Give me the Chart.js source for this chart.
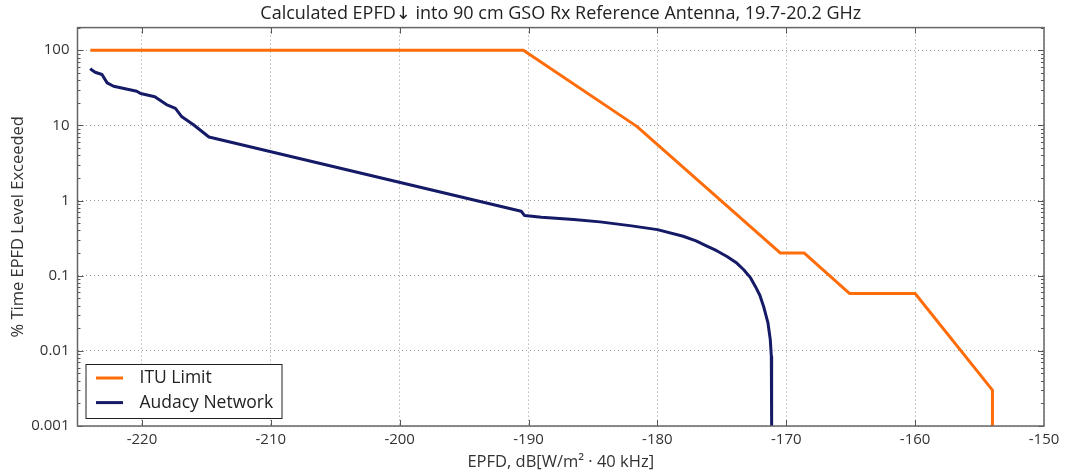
<!DOCTYPE html>
<html>
<head>
<meta charset="utf-8">
<script src="https://cdn.jsdelivr.net/npm/chart.js@4.4.1/dist/chart.umd.min.js"></script>
<style>
  html, body { margin: 0; padding: 0; background: #fff; }
  #wrap { width: 1065px; height: 473px; position: relative; }
</style>
</head>
<body>
<div id="wrap"><canvas id="grafico"></canvas></div>
<script>
// ITU limit mask
const ituX = [-224, -190.4, -181.6, -170.45, -168.6, -165.1, -160, -154, -154];
const ituY = [100, 100, 9.7, 0.2, 0.2, 0.058, 0.058, 0.003, 0.001];

// Audacy network CCDF
const audX = [-224, -223.94, -223.63, -223.1, -222.7, -222.2, -220.4, -220.1, -219, -218.1, -217.4, -216.9, -216, -214.8,
  -190.57, -190.3, -189, -186.5, -184.45, -182, -180, -178, -177, -176.2, -175.4, -174.6, -173.9, -173.3, -172.8,
  -172.4, -172.05, -171.76, -171.42, -171.24, -171.16, -171.14, -171.13];
const audY = [57, 55.4, 50.9, 47.5, 36.8, 33.2, 28.5, 26.5, 24, 18.9, 16.8, 13, 10.2, 7,
  0.72, 0.63, 0.6, 0.56, 0.52, 0.46, 0.41, 0.335, 0.29, 0.25, 0.215, 0.18, 0.15, 0.12, 0.095,
  0.072, 0.055, 0.039, 0.0235, 0.0141, 0.0085, 0.003, 0.001];

const xTicks = [-220, -210, -200, -190, -180, -170, -160, -150];
const yTicks = [0.001, 0.01, 0.1, 1, 10, 100];

const LARANJA = '#ff6d0a';
const AZUL = '#151a66';
const FONTE = "'Open Sans', 'DejaVu Sans', sans-serif";

Chart.defaults.font.family = FONTE;
Chart.defaults.color = '#333';

const pts = (xs, ys) => xs.map((x, i) => ({ x: x, y: ys[i] }));

// moldura + ticks para dentro (estilo matplotlib) + legenda no canto
const moldura = {
  id: 'moldura',
  afterDatasetsDraw(chart) {
    const { ctx, chartArea: a, scales } = chart;
    const sx = scales.x, sy = scales.y;
    ctx.save();
    ctx.strokeStyle = '#555';
    ctx.lineWidth = 1;
    ctx.beginPath();
    xTicks.forEach(v => {
      const px = Math.round(sx.getPixelForValue(v)) + 0.5;
      if (px > a.right - 1) return;
      ctx.moveTo(px, a.bottom); ctx.lineTo(px, a.bottom - 6);
      ctx.moveTo(px, a.top); ctx.lineTo(px, a.top + 6);
    });
    for (let d = -3; d <= 2; d++) {
      for (let k = 1; k <= 9; k++) {
        const v = k * Math.pow(10, d);
        if (v > sy.max) continue;
        const py = Math.round(sy.getPixelForValue(v)) + 0.5;
        const len = k === 1 ? 6 : 3;
        ctx.moveTo(a.left, py); ctx.lineTo(a.left + len, py);
        ctx.moveTo(a.right, py); ctx.lineTo(a.right - len, py);
      }
    }
    ctx.stroke();
    ctx.lineWidth = 1.5;
    ctx.strokeStyle = '#666';
    ctx.strokeRect(a.left, a.top, a.right - a.left, a.bottom - a.top);
    ctx.restore();
  },
  afterDraw(chart) {
    const { ctx, chartArea: a } = chart;
    const bx = a.left + 8.5, by = a.bottom - 61.5, bw = 196, bh = 54;
    ctx.save();
    ctx.fillStyle = '#fff';
    ctx.fillRect(bx, by, bw, bh);
    ctx.strokeStyle = '#222';
    ctx.lineWidth = 1;
    ctx.strokeRect(bx, by, bw, bh);
    const itens = [['ITU Limit', LARANJA], ['Audacy Network', AZUL]];
    itens.forEach((it, i) => {
      const y = by + 13.5 + i * 24.6;
      ctx.strokeStyle = it[1];
      ctx.lineWidth = 3;
      ctx.beginPath();
      ctx.moveTo(bx + 10, y); ctx.lineTo(bx + 37, y);
      ctx.stroke();
      ctx.fillStyle = '#222';
      ctx.font = '17.5px ' + FONTE;
      ctx.textBaseline = 'middle';
      ctx.fillText(it[0], bx + 53.5, y);
    });
    ctx.restore();
  }
};

new Chart(document.getElementById('grafico'), {
  type: 'line',
  data: {
    datasets: [
      { label: 'ITU Limit', data: pts(ituX, ituY), borderColor: LARANJA, borderWidth: 3,
        pointRadius: 0, borderJoinStyle: 'round', tension: 0 },
      { label: 'Audacy Network', data: pts(audX, audY), borderColor: AZUL, borderWidth: 3,
        pointRadius: 0, borderJoinStyle: 'round', tension: 0 }
    ]
  },
  options: {
    responsive: true,
    maintainAspectRatio: false,
    animation: false,
    layout: { padding: { left: 0, right: 21, top: 0, bottom: 0 } },
    plugins: {
      legend: { display: false },
      tooltip: { enabled: false },
      title: {
        display: true,
        fullSize: false,
        text: 'Calculated EPFD\u2193 into 90 cm GSO Rx Reference Antenna, 19.7-20.2 GHz',
        color: '#222',
        font: { size: 18, weight: 'normal' },
        padding: { top: 3, bottom: 3 }
      }
    },
    scales: {
      x: {
        type: 'linear',
        min: -225, max: -150,
        afterBuildTicks: s => { s.ticks = xTicks.map(v => ({ value: v })); },
        afterFit: s => { s.height = 47; },
        border: { display: false, dash: [1, 3] },
        grid: { color: '#999', lineWidth: 1, drawTicks: false, tickLength: 0 },
        ticks: { padding: 5, font: { size: 15 }, color: '#333', maxRotation: 0 },
        title: { display: true, text: 'EPFD, dB[W/m\u00b2 \u00b7 40 kHz]', color: '#333',
                 font: { size: 16.5 }, padding: { top: 0, bottom: 1 } }
      },
      y: {
        type: 'logarithmic',
        min: 0.001, max: 200,
        afterBuildTicks: s => { s.ticks = yTicks.map(v => ({ value: v })); },
        afterFit: s => { s.width = 77.5; },
        border: { display: false, dash: [1, 3] },
        grid: { color: '#999', lineWidth: 1, drawTicks: false, tickLength: 0 },
        ticks: { padding: 8, font: { size: 15 }, color: '#333', callback: v => String(v) },
        title: { display: true, text: '% Time EPFD Level Exceeded', color: '#333',
                 font: { size: 16.5 }, padding: { top: 8, bottom: 0 } }
      }
    }
  },
  plugins: [moldura]
});
</script>
</body>
</html>
